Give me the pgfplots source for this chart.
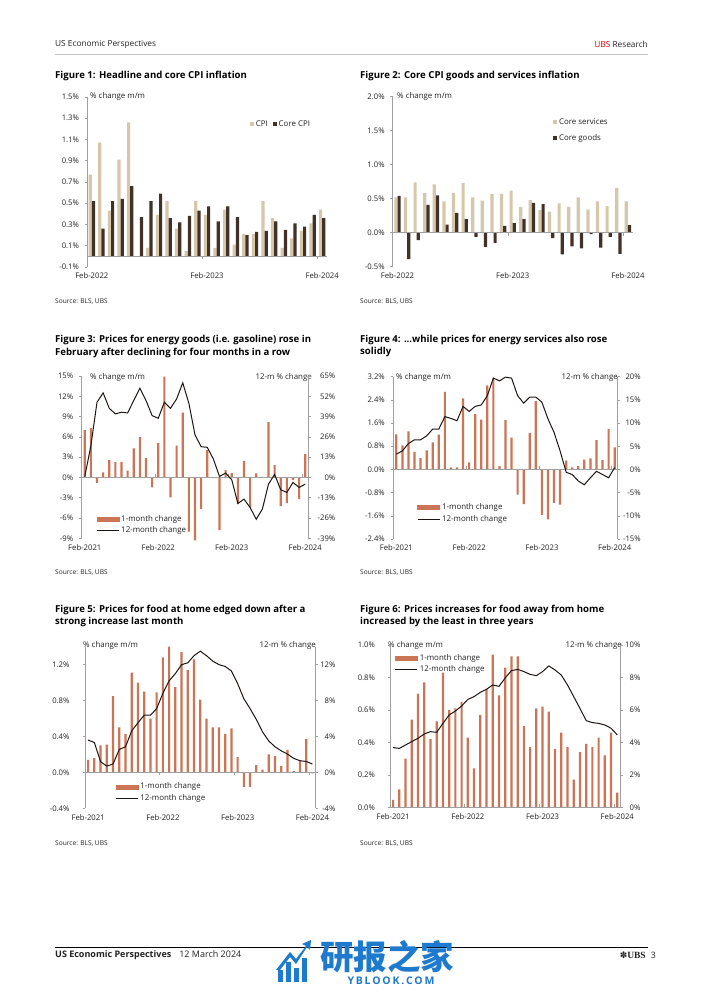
\documentclass[border=0pt]{standalone}
\usepackage{pgfplots}
\usepackage{pgfplotstable}
\pgfplotsset{compat=1.18}
\usepackage{fontspec}
\setmainfont{Open Sans}
\newfontfamily\cjk{Noto Sans CJK SC}
\newfontfamily\lserif{Liberation Serif}
\newfontfamily\dvs{DejaVu Sans}
\definecolor{tanb}{RGB}{214,199,172}
\definecolor{brn}{RGB}{66,49,39}
\definecolor{sal}{RGB}{204,116,86}
\definecolor{axg}{RGB}{160,160,160}
\definecolor{txt}{RGB}{35,35,35}
\definecolor{ubsred}{RGB}{230,0,0}
\definecolor{wm}{RGB}{30,122,206}
\definecolor{lin}{RGB}{30,22,18}
\newcommand\tk{\fontsize{7.7}{9}\selectfont}
\newcommand\ct{\fontsize{7.9}{9.5}\selectfont}
\newcommand\ttl{\fontsize{9.6}{11}\selectfont\bfseries}
\newcommand\src{\fontsize{6.6}{8}\selectfont}
\newcommand\hdr{\fontsize{8.3}{10}\selectfont}
\newcommand\xtk[2]{\draw[axg, line width=0.6pt] (axis cs:#1,0) -- ([yshift=#2]axis cs:#1,0);}
\pgfplotsset{
 ubs/.style={
  scale only axis, anchor=south west, clip=false,
  axis x line*=bottom, x axis line style={draw=none},
  axis y line*=left, y axis line style={draw=axg, line width=0.6pt},
  xtick style={draw=none},
  ytick style={draw=axg, line width=0.6pt},
  tick align=outside, major tick length=2.5pt,
  tick label style={font=\tk, text=txt},
  /pgf/number format/assume math mode=true,
  legend cell align=left,
  legend style={draw=none, fill=none, font=\ct, text=txt},
 },
 ubsR/.style={
  scale only axis, anchor=south west, clip=false,
  axis x line=none, xtick=\empty,
  axis y line*=right, y axis line style={draw=axg, line width=0.6pt},
  ytick style={draw=axg, line width=0.6pt},
  tick align=outside, major tick length=2.5pt,
  tick label style={font=\tk, text=txt},
  /pgf/number format/assume math mode=true,
  legend cell align=left,
  legend style={draw=none, fill=none, font=\ct, text=txt},
 },
 pct0/.style={yticklabel={\pgfmathprintnumber[fixed,precision=0]{\tick}\%}},
 pct1/.style={yticklabel={\pgfmathprintnumber[fixed,fixed zerofill,precision=1]{\tick}\%}},
}
% Figure 1: headline and core CPI (m/m %)
\pgfplotstableread{
m cpi core
0 0.77 0.52
1 1.07 0.26
2 0.43 0.52
3 0.91 0.54
4 1.26 0.66
5 0.00 0.37
6 0.08 0.52
7 0.39 0.59
8 0.52 0.36
9 0.26 0.32
10 0.05 0.38
11 0.52 0.43
12 0.39 0.47
13 0.08 0.33
14 0.44 0.47
15 0.11 0.37
16 0.21 0.20
17 0.21 0.23
18 0.52 0.24
19 0.36 0.33
20 0.08 0.25
21 0.17 0.31
22 0.24 0.28
23 0.31 0.39
24 0.44 0.36
}\figA
% Figure 2: core services and core goods
\pgfplotstableread{
m svc gds
0 0.52 0.54
1 0.52 -0.39
2 0.74 -0.11
3 0.58 0.41
4 0.71 0.55
5 0.46 0.12
6 0.58 0.29
7 0.73 0.20
8 0.52 -0.06
9 0.47 -0.21
10 0.57 -0.15
11 0.57 0.10
12 0.62 0.14
13 0.38 0.20
14 0.48 0.44
15 0.33 0.42
16 0.31 -0.08
17 0.43 -0.32
18 0.38 -0.20
19 0.52 -0.23
20 0.34 -0.02
21 0.46 -0.22
22 0.39 -0.06
23 0.66 -0.31
24 0.46 0.11
}\figB
% Figure 3: energy goods
\pgfplotstableread{
m bar line
0 7.0 0.5
1 7.3 20.3
2 -0.8 48.2
3 0.74 54.2
4 2.56 44.3
5 2.27 40.7
6 2.3 41.8
7 0.99 41.3
8 4.3 49.3
9 5.96 57.2
10 2.86 49.3
11 -1.48 39.6
12 5.07 37.9
13 14.9 48.2
14 -2.96 44.3
15 4.7 50.3
16 9.6 60.6
17 -8.0 47.5
18 -9.3 27.3
19 -4.68 19.7
20 4.04 19.3
21 -0.1 11.8
22 -7.8 0.6
23 1.08 2.8
24 0.64 -1.5
25 -3.94 -16.7
26 2.46 -13.9
27 -4.43 -19.3
28 0.59 -26.8
29 0.1 -20.3
30 8.18 -4.3
31 1.82 1.9
32 -4.24 -7.9
33 -3.79 -9.6
34 -0.4 -3.2
35 -3.2 -6.4
36 3.45 -4.3
}\figC
% Figure 4: energy services
\pgfplotstableread{
m bar line
0 1.21 3.3
1 0.83 4.0
2 1.31 5.6
3 0.61 6.4
4 0.39 6.4
5 0.66 7.25
6 0.93 8.7
7 1.20 8.7
8 2.68 11.4
9 0.07 11.0
10 0.07 10.5
11 2.45 13.6
12 0.24 12.5
13 1.91 13.6
14 1.72 13.9
15 2.90 15.9
16 3.15 19.7
17 0.11 19.1
18 1.70 19.9
19 1.10 19.7
20 -0.87 15.9
21 -1.20 14.3
22 1.26 15.6
23 2.36 15.6
24 -1.57 14.5
25 -1.72 10.9
26 -1.15 8.0
27 -1.21 4.0
28 0.30 -0.6
29 0.07 -1.1
30 0.11 -2.5
31 0.34 -3.3
32 0.38 -1.8
33 1.01 -0.4
34 0.32 -1.1
35 1.40 -1.8
36 0.76 0.4
}\figD
% Figure 5: food at home
\pgfplotstableread{
m bar line
0 0.14 3.6
1 0.16 3.33
2 0.30 1.19
3 0.31 0.70
4 0.85 0.93
5 0.50 2.56
6 0.43 2.85
7 1.11 4.63
8 1.00 5.52
9 0.90 6.37
10 0.60 6.37
11 0.89 7.1
12 1.28 8.8
13 1.40 10.2
14 0.95 11.0
15 1.34 12.0
16 1.14 12.2
17 1.26 13.0
18 0.81 13.5
19 0.60 13.0
20 0.50 12.4
21 0.50 12.0
22 0.43 11.8
23 0.49 11.3
24 0.17 9.9
25 -0.16 8.2
26 -0.16 7.1
27 0.08 5.9
28 0.03 4.5
29 0.20 3.5
30 0.18 2.85
31 0.07 2.4
32 0.25 2.04
33 0.015 1.56
34 0.13 1.30
35 0.37 1.22
36 -0.01 0.93
}\figE
% Figure 6: food away from home
\pgfplotstableread{
m bar line
0 0.045 3.68
1 0.11 3.63
2 0.30 3.84
3 0.54 4.05
4 0.70 4.25
5 0.77 4.52
6 0.42 4.66
7 0.53 4.62
8 0.83 5.17
9 0.60 5.69
10 0.61 5.93
11 0.65 6.24
12 0.43 6.65
13 0.24 6.82
14 0.57 7.08
15 0.73 7.27
16 0.94 7.54
17 0.69 7.45
18 0.86 7.97
19 0.93 8.42
20 0.93 8.50
21 0.50 8.36
22 0.37 8.19
23 0.61 8.11
24 0.62 8.36
25 0.59 8.71
26 0.36 8.46
27 0.46 8.15
28 0.37 7.54
29 0.17 6.82
30 0.34 6.10
31 0.39 5.34
32 0.37 5.22
33 0.43 5.17
34 0.32 5.07
35 0.46 4.87
36 0.09 4.46
}\figF
\begin{document}
\begin{tikzpicture}[x=1pt,y=1pt]
\useasboundingbox (0,0) rectangle (702,992);
\fill[white] (0,0) rectangle (702,992);
% header
\node[anchor=west, font=\hdr, text=txt, inner sep=0pt] at (55,947.5) {US Economic Perspectives};
\node[anchor=east, font=\hdr, text=txt, inner sep=0pt] at (648,947.5) {\textcolor{ubsred}{UBS} Research};
\draw[axg!60, line width=0.4pt] (55,938) -- (648,938);
% titles
\node[anchor=west, font=\ttl, inner sep=0pt] at (55,916.5) {Figure 1: Headline and core CPI inflation};
\node[anchor=west, font=\ttl, inner sep=0pt] at (360,916.5) {Figure 2: Core CPI goods and services inflation};
\node[anchor=west, font=\ttl, inner sep=0pt] at (55,652.5) {Figure 3: Prices for energy goods (i.e. gasoline) rose in};
\node[anchor=west, font=\ttl, inner sep=0pt] at (55,639.5) {February after declining for four months in a row};
\node[anchor=west, font=\ttl, inner sep=0pt] at (360,652.5) {Figure 4: ...while prices for energy services also rose};
\node[anchor=west, font=\ttl, inner sep=0pt] at (360,639.5) {solidly};
\node[anchor=west, font=\ttl, inner sep=0pt] at (55,382.5) {Figure 5: Prices for food at home edged down after a};
\node[anchor=west, font=\ttl, inner sep=0pt] at (55,369.5) {strong increase last month};
\node[anchor=west, font=\ttl, inner sep=0pt] at (360,382.5) {Figure 6: Prices increases for food away from home};
\node[anchor=west, font=\ttl, inner sep=0pt] at (360,369.5) {increased by the least in three years};
% sources
\foreach \sx/\sy in {55/690.5,360/690.5,55/419.5,360/419.5,55/148.5,360/148.5}
  \node[anchor=west, font=\src, text=txt, inner sep=0pt] at (\sx,\sy) {Source: BLS, UBS};
% axis captions
\node[anchor=west, font=\ct, text=txt, inner sep=0pt] at (90,896) {\% change m/m};
\node[anchor=west, font=\ct, text=txt, inner sep=0pt] at (397,896) {\% change m/m};
\node[anchor=west, font=\ct, text=txt, inner sep=0pt] at (90,615) {\% change m/m};
\node[anchor=east, font=\ct, text=txt, inner sep=0pt] at (312,615) {12-m \% change};
\node[anchor=west, font=\ct, text=txt, inner sep=0pt] at (396,615) {\% change m/m};
\node[anchor=east, font=\ct, text=txt, inner sep=0pt] at (618,615) {12-m \% change};
\node[anchor=west, font=\ct, text=txt, inner sep=0pt] at (83,347) {\% change m/m};
\node[anchor=east, font=\ct, text=txt, inner sep=0pt] at (316,347) {12-m \% change};
\node[anchor=west, font=\ct, text=txt, inner sep=0pt] at (388,347) {\% change m/m};
\node[anchor=east, font=\ct, text=txt, inner sep=0pt] at (622,347) {12-m \% change};

% ---------- Figure 1
\begin{axis}[ubs, pct1, at={(87pt,725pt)}, width=240pt, height=170pt,
  xmin=-0.5, xmax=24.5, ymin=-0.1, ymax=1.5,
  ytick={-0.1,0.1,0.3,0.5,0.7,0.9,1.1,1.3,1.5},
  yticklabel style={xshift=-2pt},
  xtick={0,12,24}, xticklabels={Feb-2022,Feb-2023,Feb-2024},
  ybar=0pt, bar width=3.2pt,
  legend columns=2,
  legend style={at={(0.665,0.84)}, anchor=west, /tikz/every even column/.append style={column sep=3pt}}]
\addplot[fill=tanb, draw=none, legend image code/.code={\fill[tanb] (0pt,-2pt) rectangle (4pt,2pt);}] table[x=m,y=cpi] {\figA};
\addlegendentry{CPI}
\addplot[fill=brn, draw=none, legend image code/.code={\fill[brn] (0pt,-2pt) rectangle (4pt,2pt);}] table[x=m,y=core] {\figA};
\addlegendentry{Core CPI}
\draw[axg, line width=0.6pt] (axis cs:-0.5,0) -- (axis cs:24.5,0);
\xtk{11.5}{-3pt}
\xtk{23.5}{-3pt}
\end{axis}

% ---------- Figure 2
\begin{axis}[ubs, pct1, at={(392.7pt,725.3pt)}, width=240pt, height=170pt,
  xmin=-0.5, xmax=24.5, ymin=-0.5, ymax=2.0,
  ytick={-0.5,0,0.5,1,1.5,2},
  yticklabel style={xshift=-2pt},
  xtick={0,12,24}, xticklabels={Feb-2022,Feb-2023,Feb-2024},
  ybar=0pt, bar width=3.2pt,
  legend style={at={(0.655,0.895)}, anchor=north west, row sep=4pt}]
\addplot[fill=tanb, draw=none, legend image code/.code={\fill[tanb] (0pt,-2pt) rectangle (4pt,2pt);}] table[x=m,y=svc] {\figB};
\addlegendentry{Core services}
\addplot[fill=brn, draw=none, legend image code/.code={\fill[brn] (0pt,-2pt) rectangle (4pt,2pt);}] table[x=m,y=gds] {\figB};
\addlegendentry{Core goods}
\draw[axg, line width=0.6pt] (axis cs:-0.5,0) -- (axis cs:24.5,0);
\xtk{11.5}{-3pt}
\xtk{23.5}{-3pt}
\end{axis}

% ---------- Figure 3
\begin{axis}[ubs, pct0, at={(81.7pt,453.7pt)}, width=226.6pt, height=162.3pt,
  xmin=-0.5, xmax=36.5, ymin=-9, ymax=15,
  ytick={-9,-6,-3,0,3,6,9,12,15},
  yticklabel style={xshift=-2.5pt},
  xtick={0,12,24,36}, xticklabels={Feb-2021,Feb-2022,Feb-2023,Feb-2024},
  ybar, bar width=2.2pt]
\addplot[fill=sal, draw=none] table[x=m,y=bar] {\figC};
\draw[axg, line width=0.6pt] (axis cs:-0.5,0) -- (axis cs:36.5,0);
\xtk{11.5}{3pt}
\xtk{23.5}{3pt}
\xtk{35.5}{3pt}
\end{axis}
\begin{axis}[ubsR, pct0, at={(81.7pt,453.7pt)}, width=226.6pt, height=162.3pt,
  xmin=-0.5, xmax=36.5, ymin=-39, ymax=65,
  ytick={-39,-26,-13,0,13,26,39,52,65},
  yticklabel style={anchor=east, xshift=28pt},
  legend style={at={(0.05,0.082)}, anchor=west}]
\addlegendimage{legend image code/.code={\fill[sal] (0pt,-2pt) rectangle (22pt,2pt);}}
\addlegendentry{1-month change}
\addplot[lin, line width=1pt, mark=none, legend image code/.code={\draw[lin, line width=1pt] (0pt,0pt) -- (22pt,0pt);}] table[x=m,y=line] {\figC};
\addlegendentry{12-month change}
\end{axis}

% ---------- Figure 4
\begin{axis}[ubs, pct1, at={(393.3pt,453pt)}, width=224.4pt, height=162.3pt,
  xmin=-0.5, xmax=36.5, ymin=-2.4, ymax=3.2,
  ytick={-2.4,-1.6,-0.8,0,0.8,1.6,2.4,3.2},
  yticklabel style={xshift=-2.5pt},
  xtick={0,12,24,36}, xticklabels={Feb-2021,Feb-2022,Feb-2023,Feb-2024},
  ybar, bar width=2.2pt]
\addplot[fill=sal, draw=none] table[x=m,y=bar] {\figD};
\draw[axg, line width=0.6pt] (axis cs:-0.5,0) -- (axis cs:36.5,0);
\xtk{11.5}{3pt}
\xtk{23.5}{3pt}
\xtk{35.5}{3pt}
\end{axis}
\begin{axis}[ubsR, pct0, at={(393.3pt,453pt)}, width=224.4pt, height=162.3pt,
  xmin=-0.5, xmax=36.5, ymin=-15, ymax=20,
  ytick={-15,-10,-5,0,5,10,15,20},
  yticklabel style={anchor=east, xshift=24pt},
  legend style={at={(0.092,0.158)}, anchor=west}]
\addlegendimage{legend image code/.code={\fill[sal] (0pt,-2pt) rectangle (22pt,2pt);}}
\addlegendentry{1-month change}
\addplot[lin, line width=1pt, mark=none, legend image code/.code={\draw[lin, line width=1pt] (0pt,0pt) -- (22pt,0pt);}] table[x=m,y=line] {\figD};
\addlegendentry{12-month change}
\end{axis}

% ---------- Figure 5
\begin{axis}[ubs, pct1, at={(85pt,183.7pt)}, width=230.5pt, height=161.6pt,
  xmin=-0.5, xmax=36.5, ymin=-0.4, ymax=1.4,
  ytick={-0.4,0,0.4,0.8,1.2},
  yticklabel style={xshift=-9.5pt},
  xtick={0,12,24,36}, xticklabels={Feb-2021,Feb-2022,Feb-2023,Feb-2024},
  ybar, bar width=2.2pt]
\addplot[fill=sal, draw=none] table[x=m,y=bar] {\figE};
\draw[axg, line width=0.6pt] (axis cs:-0.5,0) -- (axis cs:36.5,0);
\xtk{11.5}{-3pt}
\xtk{23.5}{-3pt}
\xtk{35.5}{-3pt}
\end{axis}
\begin{axis}[ubsR, pct0, at={(85pt,183.7pt)}, width=230.5pt, height=161.6pt,
  xmin=-0.5, xmax=36.5, ymin=-4, ymax=14,
  ytick={-4,0,4,8,12},
  yticklabel style={anchor=east, xshift=21pt},
  legend style={at={(0.118,0.098)}, anchor=west}]
\addlegendimage{legend image code/.code={\fill[sal] (0pt,-2pt) rectangle (22pt,2pt);}}
\addlegendentry{1-month change}
\addplot[lin, line width=1pt, mark=none, legend image code/.code={\draw[lin, line width=1pt] (0pt,0pt) -- (22pt,0pt);}] table[x=m,y=line] {\figE};
\addlegendentry{12-month change}
\end{axis}

% ---------- Figure 6
\begin{axis}[ubs, pct1, at={(390pt,184.7pt)}, width=230.4pt, height=162.3pt,
  xmin=-0.5, xmax=36.5, ymin=0, ymax=1.0,
  ytick={0,0.2,0.4,0.6,0.8,1.0},
  yticklabel style={xshift=-9pt},
  xtick={0,12,24,36}, xticklabels={Feb-2021,Feb-2022,Feb-2023,Feb-2024},
  ybar, bar width=2.2pt]
\addplot[fill=sal, draw=none] table[x=m,y=bar] {\figF};
\draw[axg, line width=0.6pt] (axis cs:-0.5,0) -- (axis cs:36.5,0);
\xtk{11.5}{3pt}
\xtk{23.5}{3pt}
\xtk{35.5}{3pt}
\end{axis}
\begin{axis}[ubsR, pct0, at={(390pt,184.7pt)}, width=230.4pt, height=162.3pt,
  xmin=-0.5, xmax=36.5, ymin=0, ymax=10,
  ytick={0,2,4,6,8,10},
  yticklabel style={anchor=east, xshift=21pt},
  legend style={at={(0.007,0.884)}, anchor=west}]
\addlegendimage{legend image code/.code={\fill[sal] (0pt,-2pt) rectangle (22pt,2pt);}}
\addlegendentry{1-month change}
\addplot[lin, line width=1pt, mark=none, legend image code/.code={\draw[lin, line width=1pt] (0pt,0pt) -- (22pt,0pt);}] table[x=m,y=line] {\figF};
\addlegendentry{12-month change}
\end{axis}

% footer
\draw[black, line width=0.8pt] (55,45) -- (648,45);
\node[anchor=west, inner sep=0pt, text=txt] at (55,37) {\fontsize{9}{10}\selectfont\textbf{US Economic Perspectives}\hspace{8pt}12 March 2024};
\node[anchor=east, inner sep=0pt, text=txt] at (656,37) {{\dvs\fontsize{9}{10}\selectfont ✽}{\lserif\bfseries\fontsize{9.5}{10}\selectfont UBS}\hspace{5pt}{\fontsize{8.8}{10}\selectfont 3}};
% watermark
\node[anchor=center, inner sep=0pt, text=wm] at (387,35) {\cjk\bfseries\fontsize{33.5}{34}\selectfont 研报之家};
\node[anchor=center, inner sep=0pt, text=wm] at (391,11) {\bfseries\fontsize{10.5}{12}\selectfont Y\,B\,L\,O\,O\,K\,.\,C\,O\,M};
\fill[wm] (276,22) -- (290,40) -- (296,33) -- (306,46) -- (302,48) -- (311,52) -- (310,42) -- (307,45) -- (296,28) -- (290,35) -- (280,22) -- cycle;
\fill[wm] (278,10) rectangle (283,22);
\fill[wm] (286,10) rectangle (291,30);
\fill[wm] (294,10) rectangle (299,24);
\fill[wm] (302,10) rectangle (307,34);
\end{tikzpicture}
\end{document}
